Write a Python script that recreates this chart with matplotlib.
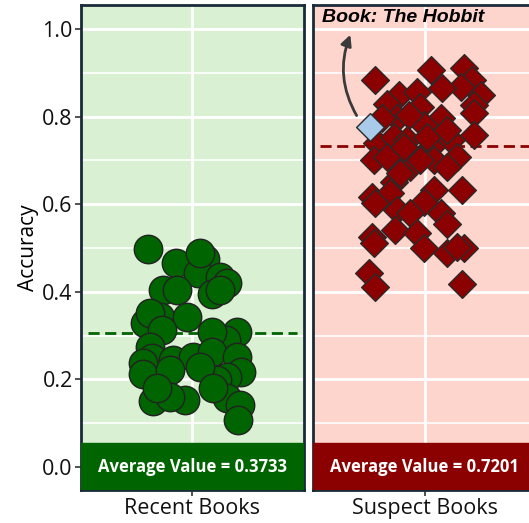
import matplotlib
matplotlib.use("Agg")
import matplotlib.pyplot as plt
from matplotlib.transforms import blended_transform_factory

plt.rcParams['font.family'] = ['Open Sans', 'DejaVu Sans']

# ---------------- data ----------------
categories = ["Recent Books", "Suspect Books"]
avg_labels = [0.3733, 0.7201]
mean_lines = [0.306, 0.733]

recent_x = [-0.396, -0.151, 0.112, 0.049, 0.067, 0.247, 0.307, -0.262, 0.172, 0.247,
            -0.142, -0.291, -0.052, -0.426, -0.381, -0.276, 0.396, 0.298, 0.172, -0.381,
            -0.366, -0.178, 0.007, -0.441, -0.447, -0.202, 0.172, 0.396, 0.435, 0.307,
            0.217, 0.067, -0.357, -0.067, -0.202, 0.307, 0.426, 0.405, -0.321, 0.184]
recent_y = [0.497, 0.466, 0.475, 0.443, 0.489, 0.434, 0.420, 0.404, 0.395, 0.404,
            0.404, 0.342, 0.343, 0.329, 0.352, 0.313, 0.309, 0.290, 0.309, 0.275,
            0.249, 0.244, 0.251, 0.237, 0.212, 0.221, 0.263, 0.252, 0.218, 0.206,
            0.199, 0.229, 0.151, 0.153, 0.161, 0.157, 0.142, 0.107, 0.180, 0.180]

suspect_x = [-0.441, 0.060, 0.354, 0.430, 0.324, 0.505, 0.159, -0.232, -0.066, -0.336,
             0.444, 0.444, -0.246, -0.036, 0.144, -0.006, -0.141, 0.444, 0.234, -0.426,
             -0.277, 0.054, -0.126, -0.457, -0.336, 0.084, 0.295, 0.205, -0.126, -0.277,
             0.084, 0.340, -0.471, -0.306, -0.006, -0.441, -0.246, -0.126, 0.144, 0.205,
             -0.261, -0.066, -0.471, -0.006, -0.457, 0.205, 0.354, 0.295, -0.502, -0.441,
             0.340, -0.156, -0.036, -0.216, 0.024, 0.205, -0.381, -0.186]
suspect_y = [0.884, 0.906, 0.910, 0.884, 0.867, 0.849, 0.865, 0.849, 0.857, 0.830,
             0.826, 0.808, 0.796, 0.823, 0.796, 0.781, 0.804, 0.758, 0.747, 0.739,
             0.754, 0.731, 0.708, 0.701, 0.708, 0.701, 0.708, 0.686, 0.686, 0.651,
             0.632, 0.632, 0.617, 0.625, 0.606, 0.602, 0.587, 0.579, 0.579, 0.556,
             0.541, 0.534, 0.526, 0.499, 0.511, 0.488, 0.499, 0.503, 0.442, 0.412,
             0.419, 0.747, 0.701, 0.671, 0.754, 0.769, 0.796, 0.731]

highlight_x = [-0.486]
highlight_y = [0.777]
highlight_label = "Book: The Hobbit"

# ---------------- styles ----------------
bg_colors = ["#d9f0d3", "#fdd5cc"]
dark_colors = ["#006400", "#8b0000"]
spine_color = "#1b2a38"

fig = plt.figure(figsize=(5.29, 5.23), dpi=100)
ax1 = fig.add_axes([81/529, 1-490/523, 223/529, 485/523])
ax2 = fig.add_axes([313/529, 1-490/523, 223/529, 485/523], sharey=ax1)
axes = [ax1, ax2]

ymin, ymax = -0.0525, 1.055
box_top = 0.055

for i, ax in enumerate(axes):
    ax.set_facecolor(bg_colors[i])
    ax.set_xlim(-1, 1)
    ax.set_ylim(ymin, ymax)
    ax.set_yticks([0.0, 0.2, 0.4, 0.6, 0.8, 1.0])
    ax.set_yticks([0.1, 0.3, 0.5, 0.7, 0.9], minor=True)
    ax.set_xticks([0])
    ax.set_xticklabels([categories[i]])
    ax.grid(True, which='major', color='white', linewidth=2, zorder=0)
    ax.grid(True, which='minor', axis='y', color='white', linewidth=1.2, zorder=0)
    ax.set_axisbelow(True)
    for s in ax.spines.values():
        s.set_color(spine_color)
        s.set_linewidth(2)
    ax.tick_params(axis='both', which='major', labelsize=15.5, length=4, width=1.2,
                   color='#333333', labelcolor='#111111', pad=2)
    ax.tick_params(axis='y', which='minor', length=0)
    ax.axhspan(ymin, box_top, color=dark_colors[i], zorder=5)
    ax.axhline(mean_lines[i], xmin=0.03, xmax=0.97, color=dark_colors[i],
               linestyle=(0, (4, 2)), linewidth=2, zorder=1)
    ax.text(0, 0.0, f"Average Value = {avg_labels[i]:.4f}", color='white',
            fontsize=12, fontweight='bold', ha='center', va='center', zorder=6)

ax2.tick_params(axis='y', which='both', left=False, labelleft=False)
ax1.set_ylabel("Accuracy", fontsize=15, labelpad=2)

ax1.scatter(recent_x, recent_y, s=420, marker='o', color=dark_colors[0],
            edgecolor='#222222', linewidth=1.0, zorder=3)
ax2.scatter(suspect_x, suspect_y, s=200, marker='D', color=dark_colors[1],
            edgecolor='#2a2a2a', linewidth=1.0, zorder=3)
ax2.scatter(highlight_x, highlight_y, s=200, marker='D', color='#a9cbe9',
            edgecolor='#2a2a2a', linewidth=1.0, zorder=4)

ax2.annotate("", xy=(highlight_x[0] - 0.17, 0.993),
             xytext=(highlight_x[0] - 0.11, highlight_y[0] + 0.02),
             arrowprops=dict(arrowstyle='-|>', color='#3a3a3a', lw=2,
                             mutation_scale=16,
                             connectionstyle='arc3,rad=-0.25'), zorder=7)
tr = blended_transform_factory(ax2.transAxes, ax2.transData)
ax2.text(0.04, 1.027, highlight_label, transform=tr, fontsize=14,
         family=['Liberation Sans', 'DejaVu Sans'],
         fontweight='bold', fontstyle='italic', ha='left', va='center', zorder=8)

fig.savefig("out.png", dpi=100)
